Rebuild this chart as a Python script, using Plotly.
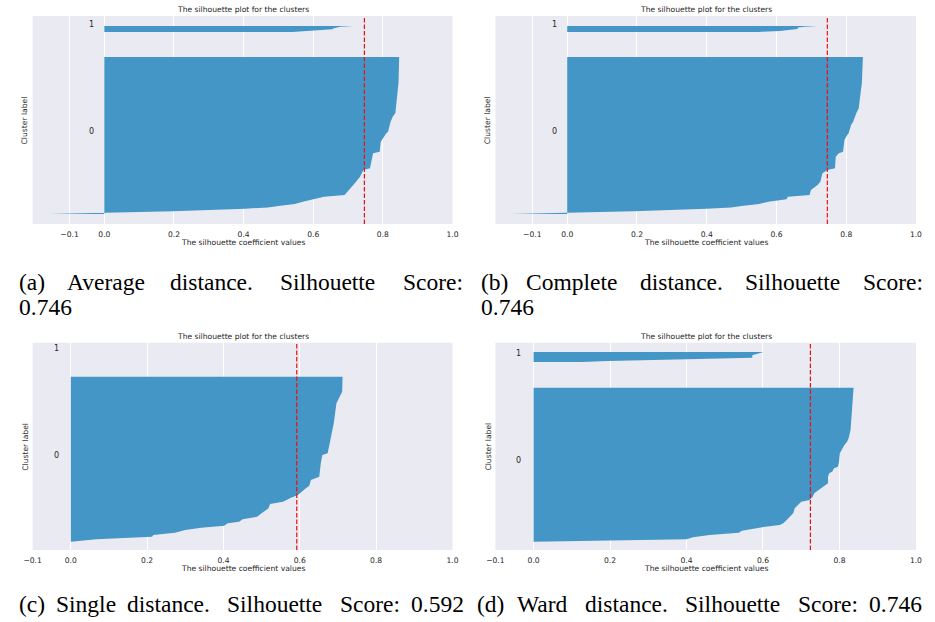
import plotly.graph_objects as go

W, H = 935, 622

# ---------------- data ----------------
# panel (a) Average linkage
a_c0_y = [10, 11, 11.7, 12.7, 15.3, 16.3, 16.6, 18, 20, 22.3, 24.7, 27.3, 29, 36, 41, 47, 54, 55.7, 64, 70.7,
          72.3, 82.3, 90.7, 92.3, 102, 107, 111, 124, 141, 167]
a_c0_x = [-0.16, -0.02, 0.0, 0.197, 0.405, 0.461, 0.47, 0.50, 0.547, 0.57, 0.603, 0.631, 0.69, 0.706, 0.72,
          0.734, 0.744, 0.763, 0.767, 0.772, 0.791, 0.794, 0.81, 0.815, 0.822, 0.828, 0.836, 0.84, 0.845, 0.847]
a_c1_y = [192, 192.3, 193, 194, 194.7, 195.7, 197.3, 198]
a_c1_x = [0.54, 0.556, 0.6, 0.64, 0.655, 0.659, 0.678, 0.716]
a_mean = 0.747

# panel (b) Complete linkage
b_c0_y = [10, 11, 11.7, 12.7, 15.3, 16.3, 16.6, 18, 20, 22.3, 24.7, 27.3, 29, 34, 39, 42.3, 50.7, 54, 55.7, 67.3,
          70.7, 72.3, 84, 89, 90.7, 99, 102.3, 110.7, 115.7, 127.3, 140.7, 167]
b_c0_x = [-0.16, -0.02, 0.0, 0.19, 0.40, 0.46, 0.47, 0.50, 0.55, 0.577, 0.629, 0.633, 0.695, 0.699, 0.718, 0.726,
          0.732, 0.746, 0.768, 0.77, 0.779, 0.791, 0.795, 0.803, 0.807, 0.814, 0.82, 0.829, 0.836, 0.84, 0.845, 0.848]
b_c1_y = [192, 192.3, 193, 194, 195, 196.5, 197.3, 198]
b_c1_x = [0.55, 0.558, 0.61, 0.65, 0.66, 0.662, 0.68, 0.718]
b_mean = 0.746

# panel (c) Single linkage
c_c0_y = [8.3, 10.7, 13.3, 15, 17.3, 20, 22.3, 24.3, 26.7, 28.3, 30.7, 33.3, 36.7, 41.7, 46, 48.3, 51.7, 55,
          61.7, 64.3, 70, 73.3, 86.7, 95, 96.7, 106.7, 115, 126.7, 146.7, 153.3, 158.3, 173.3]
c_c0_x = [0.0, 0.067, 0.213, 0.216, 0.273, 0.3, 0.342, 0.402, 0.411, 0.441, 0.45, 0.488, 0.5, 0.518, 0.522,
          0.556, 0.574, 0.595, 0.616, 0.625, 0.629, 0.651, 0.655, 0.659, 0.673, 0.678, 0.683, 0.689, 0.696,
          0.705, 0.711, 0.712]
c_c1_y = [199, 200]
c_c1_x = [0.0, 0.0]
c_mean = 0.592

# panel (d) Ward linkage
d_c0_y = [8.3, 10.7, 12.7, 15, 17.3, 19.3, 21, 23.3, 25, 26.7, 30, 33.3, 36.7, 41.7, 43.3, 45, 48.3, 50, 53.3,
          56.7, 59.3, 61.7, 65, 66.7, 73.3, 76.7, 78.3, 81.7, 83.3, 88.3, 96.7, 101.7, 105, 108.3, 111.7, 120,
          130, 143.3, 162.3]
d_c0_x = [0.0, 0.4, 0.417, 0.46, 0.537, 0.545, 0.571, 0.606, 0.644, 0.653, 0.662, 0.67, 0.679, 0.683, 0.687,
          0.692, 0.70, 0.722, 0.73, 0.734, 0.743, 0.752, 0.762, 0.77, 0.77, 0.773, 0.781, 0.786, 0.796, 0.799,
          0.801, 0.807, 0.813, 0.82, 0.824, 0.829, 0.831, 0.835, 0.837]
d_c1_y = [188, 189, 190.7, 191.7, 192.3, 194.7, 196, 198]
d_c1_x = [0.126, 0.194, 0.4, 0.56, 0.572, 0.572, 0.585, 0.601]
d_mean = 0.724

cluster_labels = ["0", "1"]
tick_vals = [-0.1, 0.0, 0.2, 0.4, 0.6, 0.8, 1.0]
tick_text = ["\u22120.1", "0.0", "0.2", "0.4", "0.6", "0.8", "1.0"]

captions = {
    "a": [["(a)", "Average", "distance.", "Silhouette", "Score:"], ["0.746"]],
    "b": [["(b)", "Complete", "distance.", "Silhouette", "Score:"], ["0.746"]],
    "c": [["(c)", "Single", "distance.", "Silhouette", "Score:", "0.592"]],
    "d": [["(d)", "Ward", "distance.", "Silhouette", "Score:", "0.746"]],
}

# ---------------- layout helpers ----------------
def px_x(p):
    return p / W

def px_y(p):
    return 1 - p / H

BLUE = "#4496c6"
TXT = "#262626"
SANS = "DejaVu Sans"
SERIF = "Liberation Serif"

panels = [
    dict(key="a", c0=(a_c0_x, a_c0_y), c1=(a_c1_x, a_c1_y), mean=a_mean,
         box=(24, 450.7, 16, 224), xr=[-0.206, 1.0], yr=[0, 208], lab_y=[92.3, 199]),
    dict(key="b", c0=(b_c0_x, b_c0_y), c1=(b_c1_x, b_c1_y), mean=b_mean,
         box=(494.3, 921.7, 16, 224), xr=[-0.206, 1.0], yr=[0, 208], lab_y=[92.3, 199]),
    dict(key="c", c0=(c_c0_x, c_c0_y), c1=(c_c1_x, c_c1_y), mean=c_mean,
         box=(24, 450.7, 342.7, 550), xr=[-0.1, 1.0], yr=[0, 207.3], lab_y=[95, 201.7]),
    dict(key="d", c0=(d_c0_x, d_c0_y), c1=(d_c1_x, d_c1_y), mean=d_mean,
         box=(494.3, 921.7, 342.7, 550), xr=[-0.1, 1.0], yr=[0, 207.3], lab_y=[89.3, 196.3]),
]

fig = go.Figure()
annotations = []
layout_axes = {}

for i, p in enumerate(panels, start=1):
    xa = "x" if i == 1 else f"x{i}"
    ya = "y" if i == 1 else f"y{i}"
    l, r, t, b = p["box"]
    for (xs, ys) in (p["c0"], p["c1"]):
        fig.add_trace(go.Scatter(x=xs, y=ys, mode="lines", fill="tozerox", fillcolor=BLUE,
                                 line=dict(width=0, color=BLUE), xaxis=xa, yaxis=ya,
                                 showlegend=False, hoverinfo="skip"))
    fig.add_trace(go.Scatter(x=[p["mean"], p["mean"]], y=p["yr"], mode="lines",
                             line=dict(color="#ee1010", width=1.2, dash="4.5px,2px"),
                             xaxis=xa, yaxis=ya, showlegend=False, hoverinfo="skip"))
    sfx = "" if i == 1 else str(i)
    layout_axes["xaxis" + sfx] = dict(
        domain=[px_x(l), px_x(r)], range=p["xr"], anchor=ya, tickvals=tick_vals, ticktext=tick_text,
        showgrid=True, gridcolor="white", gridwidth=1, zeroline=False, showline=False,
        ticks="outside", ticklen=3, tickcolor="rgba(0,0,0,0)",
        tickfont=dict(family=SANS, size=7.6, color=TXT), fixedrange=True)
    layout_axes["yaxis" + sfx] = dict(
        domain=[px_y(b), px_y(t)], range=p["yr"], anchor=xa, showticklabels=False,
        showgrid=False, zeroline=False, showline=False, ticks="", fixedrange=True)
    for lab, ly in zip(cluster_labels, p["lab_y"]):
        annotations.append(dict(x=-0.05, y=ly, xref=xa, yref=ya, text=lab, showarrow=False,
                                xanchor="left", yanchor="middle",
                                font=dict(family=SANS, size=8, color=TXT)))
    cx = (l + r) / 2
    annotations.append(dict(x=px_x(cx), y=px_y(t - 6.5), xref="paper", yref="paper",
                            text="The silhouette plot for the clusters", showarrow=False,
                            xanchor="center", yanchor="middle",
                            font=dict(family=SANS, size=7.6, color=TXT)))
    annotations.append(dict(x=px_x(cx), y=px_y(b + 18.7), xref="paper", yref="paper",
                            text="The silhouette coefficient values", showarrow=False,
                            xanchor="center", yanchor="middle",
                            font=dict(family=SANS, size=7.6, color=TXT)))
    annotations.append(dict(x=px_x(l - 7.3), y=px_y((t + b) / 2), xref="paper", yref="paper",
                            text="Cluster label", showarrow=False, textangle=-90,
                            xanchor="center", yanchor="middle",
                            font=dict(family=SANS, size=7.6, color=TXT)))

# captions: word start positions (px) emulate LaTeX justification
caption_layout = {
    "a": [([8, 57, 161.7, 273.2, 398.2], 281.5), ([8], 306.5)],
    "b": [([478, 523.8, 638.8, 745.8, 866.2], 281.5), ([478], 306.5)],
    "c": [([8, 45.9, 117.8, 219.6, 334.8, 406.7], 604)],
    "d": [([474, 514.6, 583.1, 684.9, 800.1, 872], 604)],
}
for k, lines in captions.items():
    for words, (xs, yline) in zip(lines, caption_layout[k]):
        for w, xpos in zip(words, xs):
            annotations.append(dict(x=px_x(xpos), y=px_y(yline), xref="paper", yref="paper",
                                    text=w, showarrow=False, xanchor="left", yanchor="middle",
                                    font=dict(family=SERIF, size=23.5, color="black")))

fig.update_layout(
    width=W, height=H, autosize=False,
    margin=dict(l=0, r=0, t=0, b=0),
    paper_bgcolor="white", plot_bgcolor="#eaeaf2",
    annotations=annotations, showlegend=False,
    **layout_axes,
)

fig.write_html("out.html", config={"displayModeBar": False},
               post_script="document.body.style.margin='0';document.body.style.overflow='hidden';")
